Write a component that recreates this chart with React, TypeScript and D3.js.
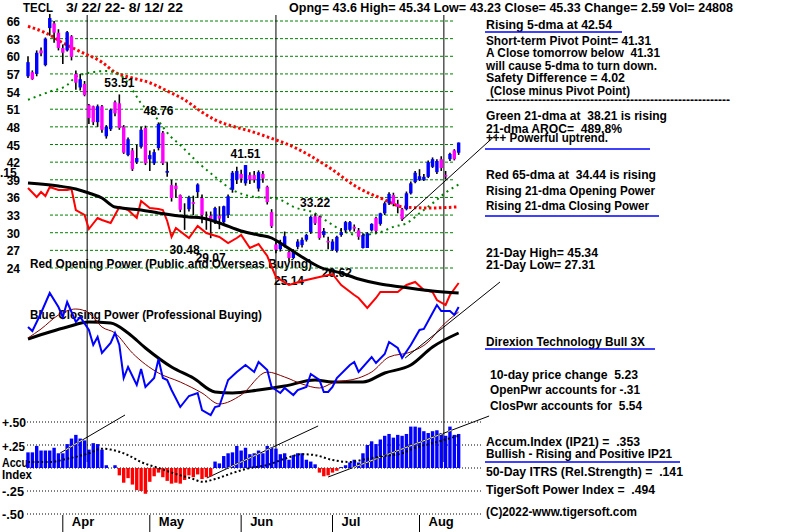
import React from "react";
import * as d3 from "d3";

// ---- header / quote text
const ticker = "TECL";
const dateRange = "3/ 22/ 22- 8/ 12/ 22";
const quoteLine = "Opng= 43.6 High= 45.34 Low= 43.23 Close= 45.33 Change= 2.59 Vol= 24808";

// ---- daily candles [open, high, low, close], 3/22/22 .. 8/12/22 (100 sessions)
const ohlc: [number, number, number, number][] = [
  [56.6, 60, 56.3, 59.0], [57.3, 57.6, 56, 56.1], [57, 61, 56.6, 60.6], [61, 61.5, 60, 60.5],
  [58.5, 63.2, 58.3, 63], [64.8, 67.2, 63.5, 66.5], [65.6, 66, 62.3, 64], [64, 64.6, 61, 61.4],
  [61.4, 62, 58.7, 60.6], [61, 64.3, 60.8, 64.1], [63.4, 63.6, 59.3, 59.9], [57, 57.6, 54.3, 55.5],
  [54.7, 57, 54.2, 56.1], [55.3, 55.8, 53.2, 53.4], [51.7, 51.9, 48.5, 49.5], [51.5, 51.6, 48.3, 48.8],
  [48.8, 51.8, 48, 51.5], [51.5, 51.7, 47, 47.5], [46.4, 48.3, 46, 48], [47.6, 51.1, 47.3, 50.9],
  [52.2, 52.5, 49.8, 50.3], [52, 53.51, 47.5, 47.8], [48, 48.3, 43.4, 43.6], [43.2, 46.2, 43, 45.9],
  [44, 44.4, 40.5, 40.8], [42, 45, 41.7, 42.7], [44.6, 48, 44.3, 47.5], [47.8, 48.2, 41.5, 41.8],
  [42.5, 44, 40.5, 43.2], [41.8, 44.2, 41.5, 43.7], [44.4, 48.76, 44, 48.5], [47, 47.3, 41.5, 41.8],
  [40.2, 42, 39.5, 40.5], [38.1, 39, 35.3, 35.9], [38, 38.5, 36, 37.4], [36.4, 36.5, 33.5, 33.9],
  [32.5, 35, 30.48, 33], [34, 36.3, 33.6, 36], [35.2, 36.3, 33, 34.9], [36.9, 38.4, 35.9, 38.2],
  [35.9, 36.5, 31.6, 33], [32.4, 33.6, 30.5, 32.3], [32.9, 33.6, 29.07, 32.2], [31.8, 34.4, 31.5, 34.2],
  [32.9, 34.5, 30.6, 32.4], [31.8, 34.6, 31.2, 34.5], [33, 36.5, 32.5, 36.2], [37.3, 40.5, 36.8, 40.2],
  [39, 41.2, 38.3, 40.5], [40, 40.7, 38.5, 39.2], [38.4, 41.51, 38, 41.5], [39.8, 40.3, 38.3, 39],
  [39.8, 40.5, 38.5, 39], [37.5, 40.6, 37, 40.3], [40, 40.5, 38.5, 39.2], [37.8, 38, 34.8, 35.2],
  [33.5, 34, 30.8, 31.1], [28, 28.5, 26.5, 27.1], [27.2, 28.8, 26.8, 28.2], [27.9, 30.2, 27.5, 29.4],
  [26.7, 27, 25.14, 25.7], [25.7, 27.2, 25.5, 26.7], [27.6, 28.9, 27.2, 28.5], [27.9, 29.2, 27.5, 28.8],
  [28.8, 29.8, 28.5, 29.6], [30.1, 32.9, 29.8, 32.7], [32.8, 33.22, 31.3, 31.6], [32.7, 32.9, 28.8, 29.1],
  [29.6, 30.8, 29.2, 30.3], [28.6, 29.3, 27.2, 28.4], [27.1, 28.9, 26.9, 28.5], [26.9, 29.5, 26.62, 29.3],
  [29.6, 30.8, 29.3, 30.1], [30.4, 32, 30, 31.8], [30.5, 32, 30.2, 31.8], [31, 31.4, 30.2, 30.7],
  [30.4, 30.8, 28.8, 29.3], [27.4, 29.9, 27.31, 29.6], [27.4, 30.1, 27.5, 29.9], [30.4, 31.6, 30.2, 31.5],
  [32.5, 32.7, 30, 30.3], [31.5, 33.4, 31.2, 33.3], [33.3, 35.3, 33, 35], [35, 36.9, 34.7, 36.6],
  [36.4, 36.8, 34.5, 34.9], [34.9, 35.6, 33.3, 34.4], [34, 34.2, 32, 32.3], [34, 37, 33.8, 36.7],
  [36.7, 38.7, 36.5, 38.4], [38.6, 40.5, 38.4, 40.2], [39, 40.8, 38.8, 39.6], [39, 40, 38.8, 39.5],
  [39.5, 42.3, 39.3, 42], [41.2, 42.8, 41, 42.5], [40.3, 42.5, 40, 42.2], [42.5, 43, 40.5, 41],
  [39.8, 40.5, 39.1, 39.6], [42.5, 43.6, 42.2, 43.4], [44, 44.2, 42.3, 42.5], [43.6, 45.34, 43.23, 45.33],
];

// ---- moving averages: [session index, price]
const ma65: [number, number][] = [
  [0, 65.1], [4, 64], [8, 62.3], [12, 60.8], [17, 59], [20, 57.3], [24, 56.3], [28, 55.5],
  [32, 54.1], [36, 52.6], [40, 50.5], [43, 49.2], [47, 48.1], [51, 47.3], [55, 46.3], [61, 44.6],
  [69, 41.2], [76, 37.6], [82, 35.6], [86, 34.4], [92, 34.2], [99, 34.4],
];
const ma21: [number, number][] = [
  [0, 52.6], [5, 54], [9, 55.1], [11, 56.5], [15, 57.3], [18, 57.5], [22, 56.3], [24, 54.3],
  [26, 52], [29, 50], [31, 48], [32, 47], [35, 44.9], [39, 42], [43, 39.5], [47, 37.3],
  [52, 36.1], [56, 35.9], [58, 35.6], [61, 34.4], [66, 33.3], [69, 31.8], [73, 30.1], [76, 29.6],
  [81, 30.1], [84, 31], [87, 31.6], [90, 33.3], [93, 35], [96, 36.8], [99, 38.2],
];

// ---- opening power (red) and its MA (black), arbitrary units
const openPower: [number, number][] = [
  [0, 112], [2, 103], [3, 108], [4, 104], [5, 113], [7, 110], [9, 110], [10, 111], [11, 90],
  [13, 85], [14, 71], [16, 82], [17, 80], [19, 77], [21, 93], [23, 90], [25, 82], [26, 99],
  [28, 92], [30, 91], [31, 90], [32, 79], [33, 63], [34, 72], [37, 62], [38, 68], [39, 74],
  [41, 67], [44, 63], [46, 57], [48, 62], [49, 65], [51, 52], [53, 56], [55, 44], [57, 23],
  [60, 15], [63, 19], [67, 23], [70, 26], [72, 15], [75, 5], [76, 2], [78, -8], [80, 2],
  [81, 8], [85, 8], [87, 15], [89, 18], [91, 10], [93, 8], [94, 0], [96, -5], [97, 5], [99, 17],
];
const openPowerMa: [number, number][] = [
  [0, 117], [7, 114], [11, 111], [14, 107], [17, 102], [20, 93], [26, 90], [30, 87], [37, 83],
  [40, 82], [44, 77], [49, 69], [53, 65], [56, 62], [58, 57], [63, 43], [67, 33], [72, 27],
  [76, 21], [81, 16], [86, 13], [93, 9], [99, 7],
];

// ---- closing power (blue), its short MA (maroon) and long MA (black)
const closePower: [number, number][] = [
  [0, 93], [1, 89], [3, 107], [5, 127], [7, 113], [8, 103], [9, 118], [11, 98], [12, 103],
  [14, 90], [15, 75], [16, 83], [17, 67], [19, 77], [20, 87], [21, 75], [22, 42], [23, 53],
  [25, 35], [26, 51], [27, 33], [29, 42], [30, 61], [31, 42], [32, 40], [33, 30], [35, 13],
  [37, 24], [39, 27], [40, 10], [42, 5], [43, 13], [44, 14], [46, 40], [48, 48], [50, 55],
  [52, 48], [53, 58], [55, 50], [56, 33], [58, 27], [59, 32], [61, 25], [62, 30], [64, 33],
  [65, 46], [67, 40], [68, 28], [69, 28], [70, 33], [71, 42], [74, 55], [75, 58], [76, 48],
  [79, 63], [80, 57], [82, 66], [83, 78], [85, 72], [86, 62], [88, 75], [90, 90], [91, 91],
  [93, 107], [94, 115], [95, 109], [97, 109], [98, 105], [99, 113],
];
const closePowerMaShort: [number, number][] = [
  [0, 82], [3, 91], [7, 105], [11, 111], [14, 107], [17, 93], [20, 87], [24, 67], [30, 47],
  [35, 38], [40, 27], [44, 16], [49, 25], [55, 48], [59, 43], [63, 36], [67, 32], [70, 37],
  [76, 42], [79, 48], [83, 63], [88, 68], [92, 78], [95, 93], [99, 108],
];
const closePowerMaLong: [number, number][] = [
  [0, 81], [5, 88], [9, 93], [14, 98], [19, 97], [23, 87], [27, 72], [33, 53], [38, 42],
  [43, 28], [47, 27], [53, 30], [59, 34], [66, 40], [70, 38], [77, 38], [82, 47], [88, 55],
  [93, 73], [99, 87],
];

// ---- accumulation index (IP21) per session and its MA
const accum = [
  0.17, 0.17, 0.24, 0.19, 0.19, 0.19, 0.22, 0.16, 0.16, 0.26, 0.32, 0.36, 0.32, 0.3, 0.2, 0.27,
  0.26, 0.2, 0.03, 0.0, 0.03, -0.08, -0.16, -0.11, -0.18, -0.24, -0.25, -0.28, -0.15, -0.09, -0.05,
  -0.1, -0.14, -0.17, -0.16, -0.17, -0.13, -0.08, -0.1, -0.07, -0.12, -0.1, -0.09, 0.07, 0.05, 0.13,
  0.16, 0.17, 0.24, 0.19, 0.22, 0.15, 0.16, 0.19, 0.16, 0.24, 0.22, 0.21, 0.15, 0.16, 0.09, 0.14,
  0.16, 0.16, 0.09, 0.07, 0.04, -0.05, -0.09, -0.08, -0.05, -0.03, 0.01, 0.03, 0.06, 0.09, 0.06,
  0.16, 0.25, 0.29, 0.26, 0.31, 0.35, 0.37, 0.33, 0.36, 0.35, 0.37, 0.45, 0.45, 0.44, 0.4, 0.38,
  0.4, 0.41, 0.38, 0.35, 0.45, 0.36, 0.37,
];
const accumMa: [number, number][] = [
  [0, 0.065], [5, 0.065], [9, 0.1], [14, 0.16], [17, 0.21], [19, 0.2], [23, 0.14], [26, 0.065],
  [30, 0], [34, -0.065], [38, -0.12], [40, -0.15], [43, -0.12], [47, -0.055], [51, 0], [55, 0.033],
  [59, 0.1], [63, 0.15], [66, 0.14], [70, 0.087], [74, 0.065], [78, 0.1], [82, 0.13], [86, 0.16],
  [89, 0.22], [93, 0.27], [99, 0.35],
];

// ---- trend lines drawn on the chart (session index, value)
const priceTrend: [number, number][] = [[86.2, 32.3], [107.8, 46.8]];
const powerTrend: [number, number][] = [[86.7, 62], [108.5, 138]];
const accumTrends: [number, number][][] = [
  [[7.4, 0.163], [22.3, 0.576]],
  [[41.1, -0.109], [66.7, 0.457]],
  [[69, -0.098], [106, 0.565]],
];

// ---- axes / annotations
const priceTicks = [66, 63, 60, 57, 54, 51, 48, 45, 42, 39, 36, 33, 30, 27, 24];
const accumTicks = [0.5, 0.25, 0, -0.25, -0.5];
const monthTicks: [string, number][] = [["Apr", 8], ["May", 28], ["Jun", 49], ["Jul", 70], ["Aug", 90]];
const markerLines = [13.6, 57, 95.6];
const highLabels: [number, string][] = [[21, "53.51"], [30, "48.76"], [50, "41.51"], [66, "33.22"]];
const lowLabels: [number, string][] = [[36, "30.48"], [42, "29.07"], [60, "25.14"], [71, "26.62"]];

const infoLines: [number, number, number, string][] = [
  [486, 29, 126, "Rising 5-dma at 42.54"],
  [486, 45, 165, "Short-term Pivot Point= 41.31"],
  [486, 57, 174, "A Close tomorrow below  41.31"],
  [486, 70, 171, "will cause 5-dma to turn down."],
  [486, 82, 139, "Safety Difference = 4.02"],
  [490, 95, 140, "(Close minus Pivot Point)"],
  [486, 104, 244, "-".repeat(61)],
  [486, 120, 181, "Green 21-dma at  38.21 is rising"],
  [486, 133, 136, "21-dma AROC=  489.8%"],
  [486, 142, 122, "+++ Powerful uptrend."],
  [486, 179, 170, "Red 65-dma at  34.44 is rising"],
  [486, 195, 169, "Rising 21-dma Opening Power"],
  [486, 210, 163, "Rising 21-dma Closing Power"],
  [486, 257, 112, "21-Day High= 45.34"],
  [486, 269, 109, "21-Day Low= 27.31"],
  [486, 346, 159, "Direxion Technology Bull 3X"],
  [490, 379, 148, "10-day price change  5.23"],
  [490, 394, 150, "OpenPwr accounts for -.31"],
  [490, 410, 152, "ClosPwr accounts for  5.54"],
  [486, 446, 154, "Accum.Index (IP21) =  .353"],
  [486, 458, 186, "Bullish - Rising and Positive IP21"],
  [486, 476, 197, "50-Day ITRS (Rel.Strength) =  .141"],
  [486, 494, 169, "TigerSoft Power Index =  .494"],
  [486, 516, 151, "(C)2022-www.tigersoft.com"],
];
const underlines: [number, number, number][] = [
  [485, 622, 32], [485, 650, 149], [485, 659, 216], [485, 655, 349], [485, 680, 462],
];

const FONT = "'Liberation Sans', Arial, sans-serif";
const BLUE = "#0000ff";
const MAGENTA = "#ff00ff";
const RED = "#ff0000";
const GREEN = "#008000";

const x = d3.scaleLinear().domain([0, 99]).range([28, 458.65]);
const yPrice = d3.scaleLinear().domain([24, 66]).range([268, 21]);
const yOpen = d3.scaleLinear().domain([0, 100]).range([300, 200]);
const yClose = d3.scaleLinear().domain([0, 100]).range([420, 320]);
const yAccum = d3.scaleLinear().domain([-0.5, 0.5]).range([514, 422]);

const lineOf = (ys: d3.ScaleLinear<number, number>) =>
  d3.line<[number, number]>().x((d) => x(d[0])).y((d) => ys(d[1]));
const smoothOf = (ys: d3.ScaleLinear<number, number>) =>
  d3.line<[number, number]>().x((d) => x(d[0])).y((d) => ys(d[1])).curve(d3.curveMonotoneX);

const T: React.FC<{ x: number; y: number; w?: number; size?: number; anchor?: string; children: string }> = ({
  x: tx, y: ty, w, size = 12, anchor = "start", children,
}) => (
  <text
    x={tx}
    y={ty}
    fontFamily={FONT}
    fontWeight="bold"
    fontSize={size}
    textAnchor={anchor}
    fill="#000"
    style={{ whiteSpace: "pre" }}
    {...(w ? { textLength: w, lengthAdjust: "spacingAndGlyphs" } : {})}
  >
    {children}
  </text>
);

export default function App() {
  const barW = 3.4;
  return (
    <svg width={800} height={532} style={{ position: "absolute", left: 0, top: 0, background: "#fff" }}>
      <rect width={800} height={532} fill="#fff" />
      <defs>
        <clipPath id="bluebars">
          {accum.map((v, i) =>
            v > 0 ? <rect key={i} x={x(i) - barW / 2} y={yAccum(v)} width={barW} height={yAccum(0) - yAccum(v)} /> : null
          )}
        </clipPath>
      </defs>

      {/* header */}
      <T x={23} y={12} w={30} size={13}>{ticker}</T>
      <T x={66} y={12} w={117} size={13}>{dateRange}</T>
      <T x={289} y={12} w={444} size={12}>{quoteLine}</T>

      {/* panel captions (under the lines) */}
      <T x={30} y={268} w={282} size={13}>Red Opening Power (Public and Overseas Buying)</T>
      <T x={30} y={319} w={232} size={13}>Blue Closing Power (Professional Buying)</T>

      {/* price grid */}
      {priceTicks.map((p) => (
        <g key={p}>
          <line x1={50} x2={453} y1={yPrice(p)} y2={yPrice(p)} stroke={GREEN} strokeWidth={1} strokeDasharray="3 2" />
          <T x={20} y={yPrice(p) + 5} size={12} anchor="end">{String(p)}</T>
        </g>
      ))}
      <T x={0} y={177} size={12}>.15</T>

      {/* accumulation grid */}
      {accumTicks.map((v) => (
        <line key={v} x1={27} x2={482} y1={yAccum(v)} y2={yAccum(v)} stroke="#000" strokeWidth={1} strokeDasharray="1 2" />
      ))}
      <T x={2} y={427} w={24}>+.50</T>
      <T x={2} y={451} w={23}>+.25</T>
      <T x={2} y={467} w={26}>Accu</T>
      <T x={2} y={479} w={30}>Index</T>
      <T x={2} y={496} w={22}>-.25</T>
      <T x={2} y={519} w={22}>-.50</T>

      {/* marker verticals */}
      {markerLines.map((m) => (
        <line key={m} x1={x(m)} x2={x(m)} y1={15} y2={462} stroke="#000" strokeWidth={1} />
      ))}

      {/* month axis */}
      {monthTicks.map(([label, i]) => (
        <g key={label}>
          <line x1={x(i)} x2={x(i)} y1={515} y2={532} stroke="#000" strokeWidth={1} />
          <T x={x(i) + 9} y={526} size={13}>{label}</T>
        </g>
      ))}

      {/* moving averages on price */}
      <path d={smoothOf(yPrice)(ma65) || ""} fill="none" stroke={RED} strokeWidth={3} strokeDasharray="2.5 2.5" />
      <path d={smoothOf(yPrice)(ma21) || ""} fill="none" stroke={GREEN} strokeWidth={2} strokeDasharray="2 4" />

      {/* candles */}
      {ohlc.map(([o, h, l, c], i) => {
        const top = yPrice(Math.max(o, c));
        const bh = Math.max(1.5, yPrice(Math.min(o, c)) - top);
        return (
          <g key={i}>
            <line x1={x(i)} x2={x(i)} y1={yPrice(h)} y2={yPrice(l)} stroke="#000" strokeWidth={1.6} />
            <rect x={x(i) - 1.7} y={top} width={3.4} height={bh} fill={c >= o ? BLUE : MAGENTA} />
          </g>
        );
      })}

      {highLabels.map(([i, s]) => (
        <T key={s} x={x(i)} y={yPrice(ohlc[i][1]) - 7} w={30} size={13} anchor="middle">{s}</T>
      ))}
      {lowLabels.map(([i, s]) => (
        <T key={s} x={x(i)} y={yPrice(ohlc[i][2]) + 24} w={30} size={13} anchor="middle">{s}</T>
      ))}

      {/* opening power */}
      <path d={lineOf(yOpen)(openPower) || ""} fill="none" stroke={RED} strokeWidth={2} />
      <path d={smoothOf(yOpen)(openPowerMa) || ""} fill="none" stroke="#000" strokeWidth={3} />

      {/* closing power */}
      <path d={smoothOf(yClose)(closePowerMaLong) || ""} fill="none" stroke="#000" strokeWidth={3} />
      <path d={smoothOf(yClose)(closePowerMaShort) || ""} fill="none" stroke="#800000" strokeWidth={1} />
      <path d={lineOf(yClose)(closePower) || ""} fill="none" stroke={BLUE} strokeWidth={2} />

      {/* trend lines */}
      <path d={lineOf(yPrice)(priceTrend) || ""} stroke="#000" strokeWidth={1} />
      <path d={lineOf(yClose)(powerTrend) || ""} stroke="#000" strokeWidth={1} />
      {accumTrends.map((t, k) => (
        <path key={k} d={lineOf(yAccum)(t) || ""} stroke="#000" strokeWidth={1} />
      ))}

      {/* accumulation bars */}
      {accum.map((v, i) => (
        <rect
          key={i}
          x={x(i) - barW / 2}
          y={Math.min(yAccum(v), yAccum(0))}
          width={barW}
          height={Math.abs(yAccum(v) - yAccum(0))}
          fill={v >= 0 ? BLUE : RED}
        />
      ))}
      <g clipPath="url(#bluebars)">
        {accumTrends.map((t, k) => (
          <path key={k} d={lineOf(yAccum)(t) || ""} stroke="#ffff00" strokeWidth={1} />
        ))}
      </g>
      <path d={smoothOf(yAccum)(accumMa) || ""} fill="none" stroke="#000" strokeWidth={2} strokeDasharray="2 2.4" />

      {/* info panel */}
      {infoLines.map(([tx, ty, w, s], k) => (
        <T key={k} x={tx} y={ty} w={w} size={12}>{s}</T>
      ))}
      {underlines.map(([x1, x2, uy], k) => (
        <line key={k} x1={x1} x2={x2} y1={uy} y2={uy} stroke={BLUE} strokeWidth={1.5} />
      ))}
    </svg>
  );
}
